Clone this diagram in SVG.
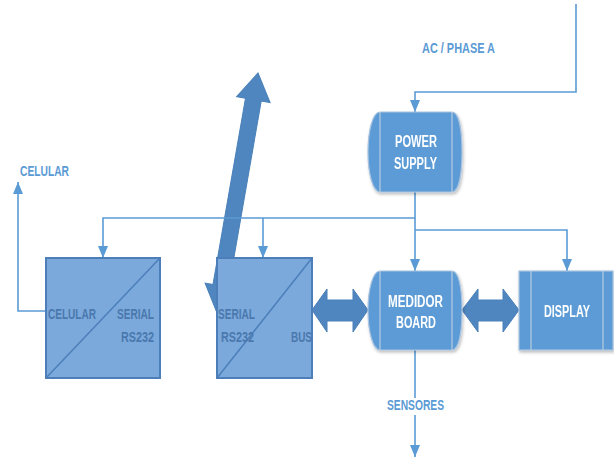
<svg xmlns="http://www.w3.org/2000/svg" width="614" height="458" viewBox="0 0 614 458">
<defs>
<style>
.ln{fill:none;stroke:#5B9BD5;stroke-width:1.6}
.big{fill:#4F86BF;stroke:#4A80B9;stroke-width:1}
.box{fill:#7BA9DB;stroke:#4C7FBA;stroke-width:2}
.diag{stroke:#4C7FBA;stroke-width:1.5}
.node{fill:#5B9BD5;stroke:#A9C3E0;stroke-width:1.2}
.inner{stroke:#B7CBE0;stroke-width:1.2}
text{font-family:"Liberation Sans",Arial,sans-serif;font-weight:bold}
.lbl{fill:#5B9BD5;font-size:15px}
.bt{fill:#4A78AE;font-size:15px}
.wt{fill:#FFFFFF;font-size:16px}
</style>
<marker id="ah" markerUnits="userSpaceOnUse" markerWidth="12" markerHeight="10" refX="12" refY="5" orient="auto">
<path d="M0,0 L12,5 L0,10 Z" fill="#5B9BD5"/>
</marker>
<filter id="sh" x="-10%" y="-10%" width="130%" height="130%">
<feDropShadow dx="1" dy="2" stdDeviation="1.5" flood-color="#000" flood-opacity="0.25"/>
</filter>
</defs>
<g id="connectors">
<polygon class="big" transform="translate(258,73) rotate(99.9)" points="0,0 27,-17 27,-8 216,-8 216,-16 242,0 216,16 216,8 27,8 27,17"/>
<polygon class="big" points="312,310 327,289 327,300 353,300 353,289 368,310 353,332 353,321 327,321 327,332"/>
<polygon class="big" points="462,310 478,289 478,300 503,300 503,289 519,310 503,332 503,321 478,321 478,332"/>
<polyline class="ln" points="576,4 576,92 415,92 415,112" marker-end="url(#ah)"/>
<polyline class="ln" points="415,192 415,218 103,218 103,258" marker-end="url(#ah)"/>
<line class="ln" x1="263" y1="218" x2="263" y2="258" marker-end="url(#ah)"/>
<line class="ln" x1="415" y1="218" x2="415" y2="271" marker-end="url(#ah)"/>
<polyline class="ln" points="415,230 567,230 567,271" marker-end="url(#ah)"/>
<polyline class="ln" points="46,311 18,311 18,182" marker-end="url(#ah)"/>
<line class="ln" x1="415" y1="350" x2="415" y2="398"/>
<line class="ln" x1="415" y1="415" x2="415" y2="457" marker-end="url(#ah)"/>
<text class="lbl" x="20" y="176" textLength="49" lengthAdjust="spacingAndGlyphs">CELULAR</text>
<text class="lbl" x="422" y="53" textLength="73" lengthAdjust="spacingAndGlyphs">AC / PHASE A</text>
<text class="lbl" x="387" y="410" textLength="57" lengthAdjust="spacingAndGlyphs">SENSORES</text>
</g>
<g id="celular-modem">
<rect class="box" x="46" y="258" width="114" height="120"/>
<line class="diag" x1="46" y1="378" x2="160" y2="258"/>
<text class="bt" x="48" y="319" textLength="48" lengthAdjust="spacingAndGlyphs">CELULAR</text>
<text class="bt" x="117" y="319" textLength="37" lengthAdjust="spacingAndGlyphs">SERIAL</text>
<text class="bt" x="121" y="342" textLength="33" lengthAdjust="spacingAndGlyphs">RS232</text>
</g>
<g id="serial-bus">
<rect class="box" x="217" y="258" width="95" height="120"/>
<line class="diag" x1="217" y1="378" x2="312" y2="258"/>
<text class="bt" x="218" y="319" textLength="37" lengthAdjust="spacingAndGlyphs">SERIAL</text>
<text class="bt" x="221" y="342" textLength="33" lengthAdjust="spacingAndGlyphs">RS232</text>
<text class="bt" x="291" y="342" textLength="21" lengthAdjust="spacingAndGlyphs">BUS</text>
</g>
<g id="power-supply" filter="url(#sh)">
<path class="node" d="M380,112 H452 C459,112 462,130 462,152 C462,174 459,192 452,192 H380 C373,192 368,174 368,152 C368,130 373,112 380,112 Z"/>
<line class="inner" x1="380" y1="112" x2="380" y2="192"/>
<line class="inner" x1="452" y1="112" x2="452" y2="192"/>
<text class="wt" x="395" y="147" textLength="42" lengthAdjust="spacingAndGlyphs">POWER</text>
<text class="wt" x="394" y="169" textLength="43" lengthAdjust="spacingAndGlyphs">SUPPLY</text>
</g>
<g id="medidor-board" filter="url(#sh)">
<path class="node" d="M380,271 H452 C459,271 462,289 462,310 C462,332 459,350 452,350 H380 C373,350 368,332 368,310 C368,289 373,271 380,271 Z"/>
<line class="inner" x1="380" y1="271" x2="380" y2="350"/>
<line class="inner" x1="452" y1="271" x2="452" y2="350"/>
<text class="wt" x="388" y="307" textLength="55" lengthAdjust="spacingAndGlyphs">MEDIDOR</text>
<text class="wt" x="396" y="328" textLength="40" lengthAdjust="spacingAndGlyphs">BOARD</text>
</g>
<g id="display" filter="url(#sh)">
<rect class="node" x="519" y="271" width="94" height="79"/>
<line class="inner" x1="531" y1="271" x2="531" y2="350"/>
<line class="inner" x1="603" y1="271" x2="603" y2="350"/>
<text class="wt" x="544" y="317" textLength="46" lengthAdjust="spacingAndGlyphs">DISPLAY</text>
</g>
</svg>
